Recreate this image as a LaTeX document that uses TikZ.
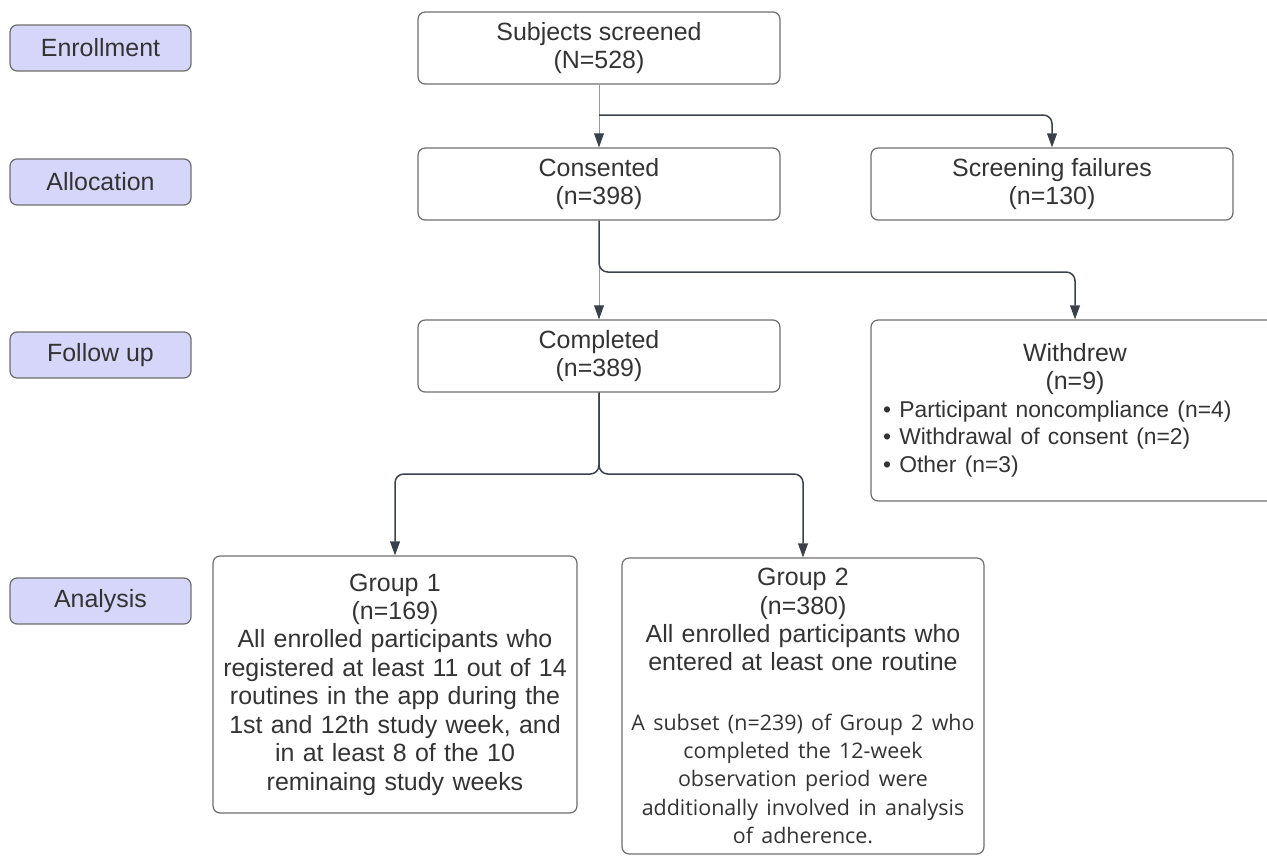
\documentclass[tikz,border=0pt]{standalone}
\usepackage{fontspec}
\setmainfont{Liberation Sans}
\newfontfamily\subsetfont{Open Sans}
\usetikzlibrary{arrows.meta,positioning}
\definecolor{stagefill}{HTML}{D6D6FA}
\definecolor{boxline}{HTML}{6E6E6E}
\definecolor{inkgray}{HTML}{333333}
\definecolor{linkgray}{HTML}{3B414B}
\definecolor{thingray}{HTML}{9A9A9A}

\begin{document}
\begin{tikzpicture}[x=0.02cm,y=-0.02cm]
	\tikzset{every node/.style={font=\fontsize{14.2pt}{16.2pt}\selectfont, text=inkgray},
		stage/.style={draw=boxline, fill=stagefill, rounded corners=4pt, line width=0.7pt, minimum width=3.62cm, minimum height=0.92cm, inner sep=0pt},
		flowbox/.style={draw=boxline, rounded corners=4pt, line width=0.7pt, minimum width=7.24cm, minimum height=1.44cm, align=center, inner sep=0pt},
		link/.style={draw=linkgray, line width=0.85pt, rounded corners=5pt, -{Triangle[length=8pt,width=5.6pt]}},
		thinlink/.style={draw=thingray, line width=0.5pt, -{Triangle[length=8pt,width=5.6pt,color=linkgray]}}}
	\useasboundingbox (0,0) rectangle (1267,856);
	% stage labels
	\node[stage] (enroll) at (100.5,48) {Enrollment};
	\node[stage] (alloc) at (100.5,182) {Allocation};
	\node[stage] (follow) at (100.5,355) {Follow up};
	\node[stage] (analys) at (100.5,601) {Analysis};
	% flow boxes
	\node[flowbox] (scr) at (599,48) {Subjects screened\\(N=528)};
	\node[flowbox] (cons) at (599,184) {Consented\\(n=398)};
	\node[flowbox] (fail) at (1052,184) {Screening failures\\(n=130)};
	\node[flowbox] (comp) at (599,356) {Completed\\(n=389)};
	\node[flowbox, minimum width=8.16cm, minimum height=3.62cm, text width=7.68cm, align=left,
		font=\fontsize{14.2pt}{15.8pt}\selectfont] (wd) at (1075,410.5)
		{\makebox[\linewidth]{Withdrew}\\ \makebox[\linewidth]{(n=9)}\\
		\fontsize{13pt}{15.8pt}\selectfont
		\textbullet\ Participant noncompliance (n=4)\\
		\textbullet\ Withdrawal of consent (n=2)\\
		\textbullet\ Other (n=3)};
	\node[flowbox, minimum width=7.28cm, minimum height=5.14cm, text width=7cm] (g1) at (395,684.5)
		{Group 1\\(n=169)\\All enrolled participants who\\registered at least 11 out of 14\\routines in the app during the\\1st and 12th study week, and\\in at least 8 of the 10\\reminaing study weeks};
	\node[flowbox, minimum width=7.24cm, minimum height=5.92cm, text width=7.2cm] (g2) at (803,706)
		{Group 2\\(n=380)\\All enrolled participants who\\entered at least one routine\\[18pt]
		{\subsetfont\fontsize{12.2pt}{16pt}\selectfont A subset (n=239) of Group 2 who\\completed the 12-week\\observation period were\\additionally involved in analysis\\of adherence.}};
	% connectors
	\coordinate (split1) at (599,115);
	\coordinate (split2) at (599,272);
	\coordinate (split3) at (599,474);
	\draw[thinlink] (scr) -- (cons);
	\draw[link] (split1) -| (fail.north);
	\draw[thinlink] (cons) -- (comp);
	\draw[link] (cons.south) -- (split2) -| (wd.north);
	\draw[link] (comp.south) -- (split3) -| (g1.north);
	\draw[link] (comp.south) -- (split3) -| (g2.north);
\end{tikzpicture}
\end{document}
